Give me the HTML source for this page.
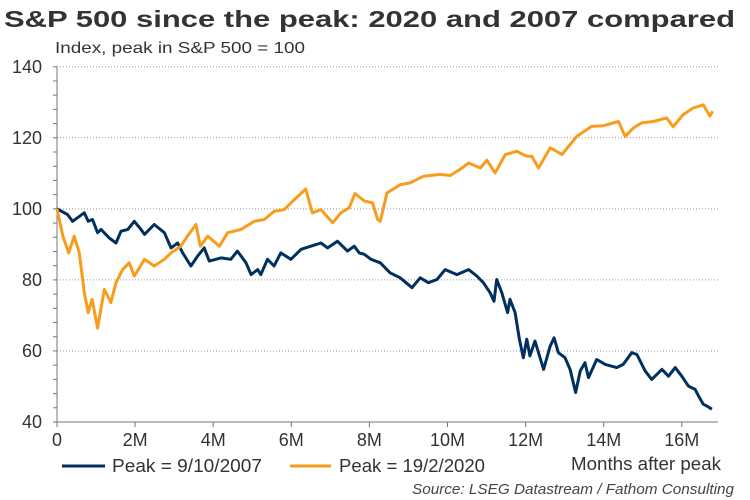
<!DOCTYPE html>
<html><head><meta charset="utf-8"><style>
html,body{margin:0;padding:0;background:#fff;}
svg{display:block;font-family:"Liberation Sans",Arial,sans-serif;}
</style></head><body>
<svg id="chart" width="750" height="500" viewBox="0 0 750 500" xmlns="http://www.w3.org/2000/svg">
<text x="4" y="27" font-size="23" font-weight="bold" fill="#333" textLength="731" lengthAdjust="spacingAndGlyphs">S&amp;P 500 since the peak: 2020 and 2007 compared</text>
<text x="55" y="53" font-size="16" fill="#333" textLength="250" lengthAdjust="spacingAndGlyphs">Index, peak in S&amp;P 500 = 100</text>
<g id="grid"></g><g id="axes"></g><g id="series"></g>
<line x1="62" y1="466" x2="105" y2="466" stroke="#00305e" stroke-width="3"/>
<text x="112" y="472" font-size="18" fill="#333" textLength="150" lengthAdjust="spacingAndGlyphs">Peak = 9/10/2007</text>
<line x1="290" y1="466" x2="331" y2="466" stroke="#f89c1c" stroke-width="3"/>
<text x="339" y="472" font-size="18" fill="#333" textLength="146" lengthAdjust="spacingAndGlyphs">Peak = 19/2/2020</text>
<text x="721" y="470" font-size="18" fill="#333" text-anchor="end" textLength="150" lengthAdjust="spacingAndGlyphs">Months after peak</text>
<text x="734" y="494" font-size="15" font-style="italic" fill="#444" text-anchor="end" textLength="322" lengthAdjust="spacingAndGlyphs">Source: LSEG Datastream / Fathom Consulting</text>
</svg>
<script>
const yTicks=[40,60,80,100,120,140];
const xTicks=[0,2,4,6,8,10,12,14,16];
const xTickLabels=["0","2M","4M","6M","8M","10M","12M","14M","16M"];
const months2020=[0,.15,.3,.44,.57,.7,.8,.9,1.04,1.21,1.38,1.51,1.68,1.85,1.98,2.24,2.49,2.75,2.92,3.17,3.34,3.56,3.67,3.86,4.16,4.37,4.71,5.05,5.31,5.56,5.82,6.08,6.37,6.54,6.76,7.06,7.27,7.48,7.63,7.87,8.08,8.21,8.28,8.45,8.79,9.04,9.39,9.81,10.07,10.32,10.54,10.84,11.01,11.22,11.48,11.78,12.03,12.16,12.33,12.63,12.93,13.31,13.69,13.99,14.38,14.55,14.76,14.97,15.27,15.61,15.78,16.03,16.29,16.55,16.72,16.79];
const values2020=[100,92.3,87.6,92.3,87.6,76.4,70.8,74.5,66.4,77.3,73.6,79.2,82.9,84.8,81.1,85.8,83.9,85.8,87.6,89.5,92.3,95.6,89.5,92.3,89.5,93.3,94.2,96.5,97,99.3,99.8,102.6,105.6,98.9,99.8,96.1,98.9,100.3,104.3,102.2,101.7,97,96.5,104.5,106.8,107.3,109.2,109.7,109.4,111.1,112.9,111.5,113.7,110.1,115.3,116.2,114.8,114.8,111.5,117.2,115.3,120.4,123.2,123.4,124.6,120.4,122.8,124.2,124.6,125.6,123.1,126.5,128.4,129.3,126.1,127.5];
const months2007=[0,.27,.4,.7,.8,.91,1.04,1.13,1.34,1.51,1.64,1.81,1.98,2.15,2.24,2.49,2.75,2.92,3.09,3.22,3.43,3.6,3.77,3.9,4.2,4.45,4.62,4.84,4.97,5.14,5.22,5.39,5.56,5.73,5.99,6.25,6.5,6.76,6.93,7.18,7.44,7.61,7.74,7.87,8.04,8.28,8.53,8.79,9.09,9.3,9.51,9.73,9.94,10.24,10.54,10.75,10.92,11.09,11.19,11.26,11.39,11.54,11.6,11.73,11.84,11.94,12.03,12.11,12.24,12.46,12.63,12.73,12.84,13.01,13.14,13.28,13.4,13.52,13.61,13.82,14.04,14.33,14.5,14.72,14.85,15.06,15.23,15.49,15.66,15.83,16,16.17,16.34,16.43,16.55,16.64,16.77];
const values2007=[100,98.4,96.5,98.9,96.5,97,93.3,94.2,91.8,90.4,93.7,94.2,96.5,94.2,92.8,95.6,93.3,89,90.4,87.6,83.9,86.7,89,85.3,86.2,85.8,88.1,84.8,81.5,82.9,81.5,85.8,83.9,87.6,85.8,88.6,89.5,90.4,89,90.9,88.1,89.5,87.6,87.2,85.8,84.8,82,80.6,77.8,80.6,79.2,80.1,82.9,81.5,82.9,81.1,79.2,76.4,74,80.1,76.4,70.8,74.5,70.8,63.3,58.1,63.3,58.6,62.8,54.8,61.4,63.7,59.5,58.1,54.8,48.3,54.4,56.7,52.5,57.6,56.2,55.3,56.2,59.5,59,54.4,52,54.8,52.9,55.3,52.9,50.1,49.2,47.3,45,44.5,43.6];

const NS="http://www.w3.org/2000/svg";
const X0=57,XPM=39.05,Y40=422,YPU=3.5525,XR=718;
const xs=m=>X0+m*XPM, ys=v=>Y40-(v-40)*YPU;
function mk(tag,attrs,parent){const e=document.createElementNS(NS,tag);for(const k in attrs)e.setAttribute(k,attrs[k]);parent.appendChild(e);return e;}
const grid=document.getElementById('grid'),axes=document.getElementById('axes'),series=document.getElementById('series');
yTicks.forEach(t=>{
  if(t>40){const g=mk('line',{x1:X0,x2:XR,y1:ys(t),y2:ys(t),stroke:'#999','stroke-width':1,'stroke-dasharray':'1,2'},grid);
  
  }
  const l=mk('text',{x:42,y:ys(t)+6,'font-size':18,fill:'#333','text-anchor':'end'},axes);l.textContent=t;
  
  
});
for(let v=40;v<=140;v+=4){mk('line',{x1:X0-4,x2:X0,y1:ys(v),y2:ys(v),stroke:'#777','stroke-width':1},axes);}
const ya=mk('line',{x1:X0,x2:X0,y1:ys(140),y2:Y40,stroke:'#777','stroke-width':1},axes);


const xa=mk('line',{x1:X0,x2:XR,y1:Y40,y2:Y40,stroke:'#777','stroke-width':1},axes);


xTicks.forEach((t,i)=>{
  mk('line',{x1:xs(t),x2:xs(t),y1:Y40,y2:Y40+5,stroke:'#777'},axes);
  const l=mk('text',{x:xs(t),y:446,'font-size':18,fill:'#333','text-anchor':'middle'},axes);l.textContent=xTickLabels[i];
  
  
});
function line(ms,vs,color,name){
  const d=ms.map((m,i)=>(i?'L':'M')+xs(m).toFixed(1)+','+ys(vs[i]).toFixed(1)).join('');
  const p=mk('path',{d:d,fill:'none',stroke:color,'stroke-width':3,'stroke-linejoin':'round'},series);
  
  
}
line(months2007,values2007,'#00305e','series-2007');
line(months2020,values2020,'#f89c1c','series-2020');
</script>
</body></html>
